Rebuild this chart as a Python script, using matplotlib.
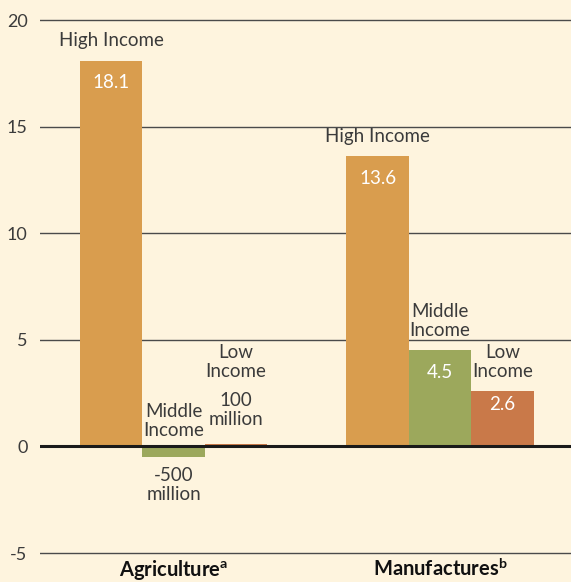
import matplotlib

matplotlib.use("Agg")
import matplotlib.pyplot as plt  # noqa: E402
import numpy as np  # noqa: E402

# trade values by income group (billions), two sectors
sectors = ["Agriculture", "Manufactures"]
sector_notes = ["a", "b"]
groups = ["High\u00a0Income", "Middle\nIncome", "Low\nIncome"]
high = [18.1, 13.6]
middle = [-0.5, 4.5]
low = [0.1, 2.6]
value_text = [["18.1", "-500\nmillion", "100\nmillion"],
              ["13.6", "4.5", "2.6"]]
yticks = [-5, 0, 5, 10, 15, 20]

BG = "#FEF4DE"
COLORS = ["#D99D4E", "#9CA85C", "#C97949"]
TEXT = "#3B3B3B"
FS = 13.5

plt.rcParams["font.family"] = ["Lato", "DejaVu Sans"]
plt.rcParams["mathtext.fontset"] = "custom"
plt.rcParams["mathtext.bf"] = "Lato:bold"
plt.rcParams["mathtext.rm"] = "Lato"

fig = plt.figure(figsize=(5.71, 5.82), dpi=100, facecolor=BG)
ax = fig.add_axes([40 / 571, 0.0388, 531 / 571, 0.9378], facecolor=BG)
ax.set_xlim(-0.501, 1.4916)
ax.set_ylim(-5.3, 20.3)

for y in yticks:
    if y == 0:
        ax.axhline(0, color="#1a1a1a", lw=2.2, zorder=3)
    else:
        ax.axhline(y, color="#4a4a4a", lw=1.0, zorder=1)

x = np.arange(len(sectors))
w = 0.236
off = 0.2345
series = [high, middle, low]
for i, vals in enumerate(series):
    ax.bar(x + (i - 1) * off, vals, width=w, color=COLORS[i], zorder=2)

# white value labels inside the larger bars
for j in range(len(sectors)):
    for i, vals in enumerate(series):
        v = vals[j]
        if abs(v) < 1:
            continue
        ax.annotate(value_text[j][i], (x[j] + (i - 1) * off, v), xytext=(0, -16 if v > 3 else -10),
                    textcoords="offset points", ha="center", va="center",
                    color="white", fontsize=FS, zorder=4)

# group names above the bars
kw = dict(textcoords="offset points", ha="center", va="bottom",
          color=TEXT, fontsize=FS, linespacing=1.15, zorder=4)
for j in range(len(sectors)):
    for i, vals in enumerate(series):
        xi = x[j] + (i - 1) * off
        v = vals[j]
        if j == 0 and i == 1:
            ax.annotate(groups[i], (xi, 0), xytext=(0, 5), **kw)
            ax.annotate(value_text[j][i], (xi, v), xytext=(0, -7),
                        **{**kw, "va": "top"})
        elif j == 0 and i == 2:
            ax.annotate(value_text[j][i], (xi, max(v, 0)), xytext=(0, 12), **kw)
            ax.annotate(groups[i], (xi, max(v, 0)), xytext=(0, 46), **kw)
        else:
            ax.annotate(groups[i], (xi, v), xytext=(0, 8), **kw)

ax.set_yticks(yticks)
ax.set_yticklabels([str(t) for t in yticks])
ax.tick_params(axis="y", length=0, pad=9, labelsize=13, labelcolor=TEXT)
ax.set_xticks([])
for s in ax.spines.values():
    s.set_visible(False)

# sector names sit on the bottom edge of the figure
for j, name in enumerate(sectors):
    xf = ax.transData.transform((x[j], 0))[0] / fig.bbox.width
    fig.text(xf, 6 / 582, name + r"$^{\mathbf{" + sector_notes[j] + "}}$",
             ha="center", va="baseline", fontsize=14.5, fontweight="bold",
             color="#111111")

fig.savefig("out.png", dpi=100, facecolor=BG)
